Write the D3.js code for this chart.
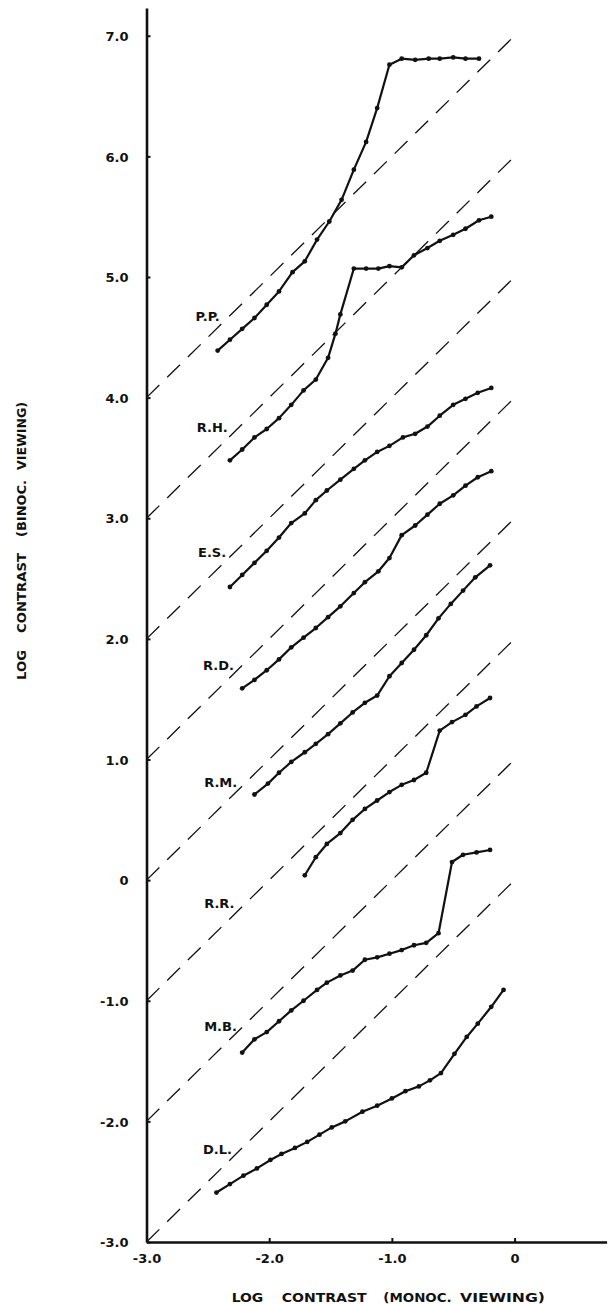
<!DOCTYPE html>
<meta charset="utf-8">
<style>
body { margin: 0; background: #fff; }
text { font: bold 13px "DejaVu Sans", sans-serif; fill: #111; }
</style>
<body>
<script src="https://d3js.org/d3.v7.min.js"></script>
<script>

// subjects, top to bottom
var subjects = ["P.P.", "R.H.", "E.S.", "R.D.", "R.M.", "R.R.", "M.B.", "D.L."];

// log contrast, monocular (x) and binocular (y) viewing
var ppMono = [-2.42,-2.32,-2.22,-2.12,-2.02,-1.92,-1.81,-1.71,-1.61,-1.51,-1.41,-1.31,-1.21,-1.12,-1.02,-0.92,-0.81,-0.70,-0.61,-0.50,-0.40,-0.29];
var ppBino = [4.39,4.48,4.57,4.66,4.77,4.88,5.04,5.13,5.31,5.46,5.64,5.89,6.12,6.40,6.76,6.81,6.80,6.81,6.81,6.82,6.81,6.81];

var rhMono = [-2.32,-2.22,-2.12,-2.02,-1.92,-1.82,-1.72,-1.62,-1.52,-1.46,-1.42,-1.31,-1.21,-1.11,-1.02,-0.92,-0.82,-0.71,-0.61,-0.50,-0.40,-0.29,-0.19];
var rhBino = [3.48,3.57,3.67,3.74,3.83,3.94,4.06,4.15,4.33,4.53,4.69,5.07,5.07,5.07,5.09,5.08,5.18,5.24,5.30,5.35,5.40,5.47,5.50];

var esMono = [-2.32,-2.22,-2.12,-2.02,-1.92,-1.82,-1.71,-1.62,-1.53,-1.42,-1.31,-1.22,-1.12,-1.02,-0.91,-0.81,-0.71,-0.61,-0.50,-0.40,-0.30,-0.19];
var esBino = [2.43,2.53,2.63,2.73,2.84,2.96,3.04,3.15,3.23,3.32,3.41,3.48,3.55,3.60,3.67,3.70,3.76,3.85,3.94,3.99,4.04,4.08];

var rdMono = [-2.22,-2.12,-2.02,-1.92,-1.82,-1.72,-1.62,-1.52,-1.42,-1.31,-1.22,-1.11,-1.02,-0.92,-0.81,-0.71,-0.61,-0.50,-0.40,-0.30,-0.19];
var rdBino = [1.59,1.66,1.74,1.83,1.93,2.01,2.09,2.18,2.27,2.38,2.47,2.56,2.67,2.86,2.94,3.03,3.12,3.19,3.27,3.34,3.39];

var rmMono = [-2.12,-2.01,-1.92,-1.82,-1.71,-1.62,-1.52,-1.42,-1.32,-1.22,-1.12,-1.02,-0.92,-0.82,-0.72,-0.62,-0.52,-0.42,-0.32,-0.20];
var rmBino = [0.71,0.80,0.89,0.98,1.06,1.13,1.21,1.30,1.39,1.47,1.53,1.69,1.80,1.91,2.03,2.17,2.29,2.40,2.51,2.61];

var rrMono = [-1.71,-1.62,-1.53,-1.42,-1.32,-1.22,-1.12,-1.02,-0.92,-0.82,-0.72,-0.61,-0.51,-0.40,-0.31,-0.20];
var rrBino = [0.04,0.19,0.30,0.39,0.50,0.59,0.66,0.73,0.79,0.83,0.89,1.24,1.31,1.37,1.44,1.51];

var mbMono = [-2.22,-2.12,-2.02,-1.92,-1.82,-1.72,-1.61,-1.53,-1.42,-1.32,-1.22,-1.12,-1.02,-0.92,-0.82,-0.72,-0.62,-0.51,-0.42,-0.31,-0.20];
var mbBino = [-1.43,-1.32,-1.26,-1.17,-1.08,-1.00,-0.91,-0.85,-0.79,-0.75,-0.66,-0.64,-0.61,-0.58,-0.54,-0.52,-0.44,0.15,0.21,0.23,0.25];

var dlMono = [-2.43,-2.32,-2.21,-2.10,-1.99,-1.90,-1.79,-1.69,-1.59,-1.49,-1.38,-1.24,-1.12,-1.00,-0.89,-0.78,-0.69,-0.60,-0.49,-0.39,-0.30,-0.19,-0.09];
var dlBino = [-2.59,-2.52,-2.45,-2.39,-2.32,-2.27,-2.22,-2.17,-2.11,-2.05,-2.00,-1.92,-1.87,-1.81,-1.75,-1.71,-1.66,-1.60,-1.44,-1.30,-1.19,-1.05,-0.91];

// where each subject's name sits (data units)
var labelX = [-2.60,-2.59,-2.58,-2.54,-2.53,-2.53,-2.53,-2.54];
var labelY = [4.67,3.75,2.72,1.78,0.81,-0.19,-1.21,-2.23];

// equality lines y = x + c
var diagonals = [0, 1, 2, 3, 4, 5, 6, 7];

var xTicks = [-3, -2, -1, 0];
var xTickLabels = ["-3.0", "-2.0", "-1.0", "0"];
var yTicks = [-3, -2, -1, 0, 1, 2, 3, 4, 5, 6, 7];
var yTickLabels = ["-3.0", "-2.0", "-1.0", "0", "1.0", "2.0", "3.0", "4.0", "5.0", "6.0", "7.0"];

var monos = [ppMono, rhMono, esMono, rdMono, rmMono, rrMono, mbMono, dlMono];
var binos = [ppBino, rhBino, esBino, rdBino, rmBino, rrBino, mbBino, dlBino];

var width = 608,
    height = 1305;

var x = d3.scaleLinear().domain([-3, 0.75]).range([146.5, 606.6]);
var y = d3.scaleLinear().domain([-3, 7.23]).range([1242, 8]);

var svg = d3.select("body").append("svg")
    .attr("width", width)
    .attr("height", height);

// dashed 45 degree lines
svg.selectAll(".diag")
    .data(diagonals)
  .enter().append("line")
    .attr("class", "diag")
    .attr("x1", x(-3))
    .attr("y1", function(c) { return y(c - 3); })
    .attr("x2", x(0))
    .attr("y2", function(c) { return y(c); })
    .style("stroke", "#111")
    .style("stroke-width", 1.3)
    .style("stroke-dasharray", "18,11");

// axes
var xAxis = d3.axisBottom(x)
    .tickValues(xTicks)
    .tickFormat(function(d, i) { return xTickLabels[i]; })
    .tickSizeInner(-4)
    .tickSizeOuter(0)
    .tickPadding(12);

var yAxis = d3.axisLeft(y)
    .tickValues(yTicks)
    .tickFormat(function(d, i) { return yTickLabels[i]; })
    .tickSizeInner(-4)
    .tickSizeOuter(0)
    .tickPadding(18);

var gx = svg.append("g")
    .attr("transform", "translate(0," + y(-3) + ")")
    .call(xAxis);

var gy = svg.append("g")
    .attr("transform", "translate(" + x(-3) + ",0)")
    .call(yAxis);

[gx, gy].forEach(function(g) {
  g.select(".domain").style("stroke", "#111").style("stroke-width", 2.6);
  g.selectAll(".tick line").style("stroke", "#111").style("stroke-width", 2);
  g.selectAll(".tick text")
      .style("font", "bold 13px 'DejaVu Sans', sans-serif")
      .style("fill", "#111");
});
gy.selectAll(".tick text").attr("dy", "0.36em");

// curves
var line = d3.line()
    .x(function(d) { return x(d[0]); })
    .y(function(d) { return y(d[1]); });

subjects.forEach(function(name, i) {
  var pts = d3.zip(monos[i], binos[i]);

  svg.append("path")
      .datum(pts)
      .attr("d", line)
      .style("fill", "none")
      .style("stroke", "#111")
      .style("stroke-width", 2.2)
      .style("stroke-linejoin", "round");

  svg.selectAll(".dot" + i)
      .data(pts)
    .enter().append("circle")
      .attr("class", "dot" + i)
      .attr("cx", function(d) { return x(d[0]); })
      .attr("cy", function(d) { return y(d[1]); })
      .attr("r", 2.4)
      .style("fill", "#111");

  svg.append("text")
      .attr("x", x(labelX[i]))
      .attr("y", y(labelY[i]))
      .attr("dy", "0.36em")
      .text(name);
});

// axis titles, word by word to keep the wide spacing
var xTitle = [["LOG", 231.7, 31.6], ["CONTRAST", 281.7, 85], ["(MONOC.", 383.3, 68.4], ["VIEWING)", 460, 85]];
var xt = svg.append("text")
    .attr("y", 1297)
    .attr("dy", "0.36em");
xt.selectAll("tspan")
    .data(xTitle)
  .enter().append("tspan")
    .attr("x", function(d) { return d[1]; })
    .attr("textLength", function(d) { return d[2]; })
    .attr("lengthAdjust", "spacingAndGlyphs")
    .text(function(d) { return d[0]; });

var yTitle = [["LOG", 680, 30], ["CONTRAST", 633, 80], ["(BINOC.", 537, 57], ["VIEWING)", 470, 68]];
var yt = svg.append("text")
    .attr("transform", "translate(21,0) rotate(-90)")
    .attr("y", 0)
    .attr("dy", "0.36em");
yt.selectAll("tspan")
    .data(yTitle)
  .enter().append("tspan")
    .attr("x", function(d) { return -d[1]; })
    .attr("textLength", function(d) { return d[2]; })
    .attr("lengthAdjust", "spacingAndGlyphs")
    .text(function(d) { return d[0]; });

</script>
</body>
